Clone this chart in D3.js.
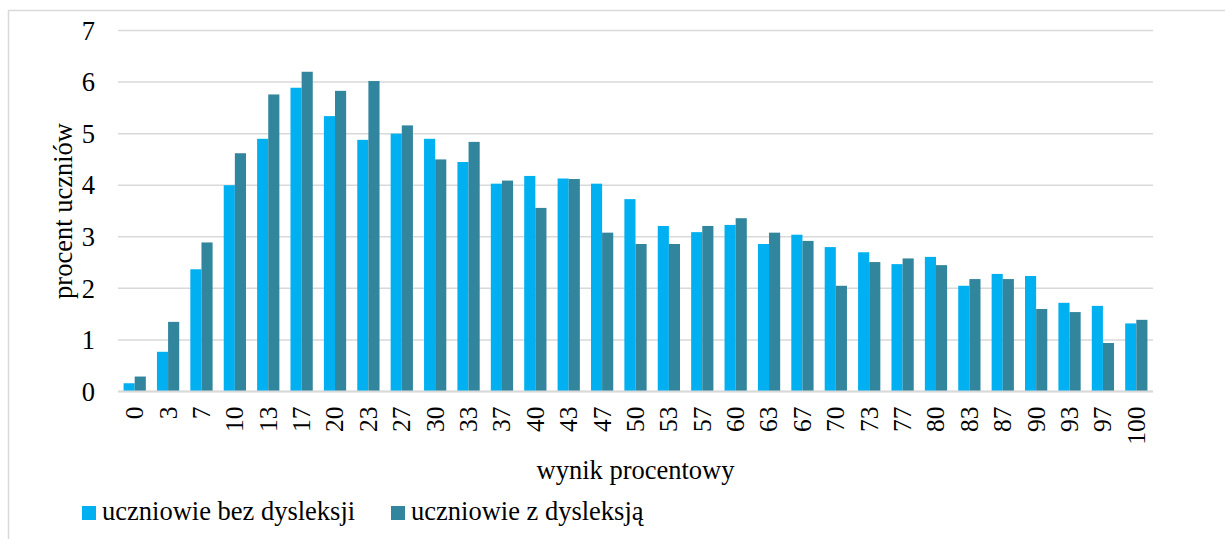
<!DOCTYPE html>
<html>
<head>
<meta charset="utf-8">
<script src="https://cdn.jsdelivr.net/npm/d3@7"></script>
<style>
  body { margin: 0; background: #fff; }
</style>
</head>
<body>
<div id="chart"></div>
<script>
const width = 1225, height = 539;
const serif = "'Liberation Serif', 'Times New Roman', serif";

// data
const scores = ["0", "3", "7", "10", "13", "17", "20", "23", "27", "30", "33", "37", "40", "43", "47", "50",
    "53", "57", "60", "63", "67", "70", "73", "77", "80", "83", "87", "90", "93", "97", "100"];
const withoutDyslexia = [0.16, 0.77, 2.37, 4.00, 4.90, 5.89, 5.34, 4.88, 5.00, 4.90, 4.45, 4.03, 4.18, 4.13, 4.03, 3.73,
    3.21, 3.09, 3.23, 2.86, 3.04, 2.80, 2.70, 2.47, 2.61, 2.05, 2.28, 2.24, 1.72, 1.66, 1.32];
const withDyslexia = [0.29, 1.35, 2.89, 4.62, 5.76, 6.20, 5.83, 6.02, 5.16, 4.50, 4.84, 4.09, 3.56, 4.12, 3.08, 2.86,
    2.86, 3.21, 3.36, 3.08, 2.92, 2.05, 2.51, 2.58, 2.45, 2.18, 2.18, 1.60, 1.54, 0.94, 1.39];
const seriesNames = ["uczniowie bez dysleksji", "uczniowie z dysleksją"];
const yTicks = [0, 1, 2, 3, 4, 5, 6, 7];

const colors = ["#00b0f0", "#31859c"];
const margin = { top: 30.5, right: 72, bottom: 147.5, left: 118 };

const svg = d3.select("#chart").append("svg").attr("width", width).attr("height", height)
    .style("font-family", serif);

// outer frame (only left and top edges visible in the crop)
svg.append("rect")
    .attr("x", 8.5).attr("y", 10.5)
    .attr("width", width + 20).attr("height", height + 20)
    .attr("fill", "none").attr("stroke", "#d9d9d9").attr("stroke-width", 1.5);

const x0 = d3.scaleBand().domain(scores)
    .range([margin.left, width - margin.right])
    .paddingInner(1 / 3).paddingOuter(1 / 6);
const x1 = d3.scaleBand().domain([0, 1]).range([0, x0.bandwidth()]);
const y = d3.scaleLinear().domain([0, 7]).range([height - margin.bottom, margin.top]);

// gridlines
svg.append("g").selectAll("line")
    .data(yTicks)
    .enter().append("line")
    .attr("x1", margin.left).attr("x2", width - margin.right)
    .attr("y1", d => y(d)).attr("y2", d => y(d))
    .attr("stroke", "#d9d9d9").attr("stroke-width", 1.5);

// bars
const groups = svg.append("g").selectAll("g")
    .data(scores.map((s, i) => ({ score: s, values: [withoutDyslexia[i], withDyslexia[i]] })))
    .enter().append("g")
    .attr("transform", d => `translate(${x0(d.score)},0)`);

groups.selectAll("rect")
    .data(d => d.values)
    .enter().append("rect")
    .attr("x", (d, i) => x1(i))
    .attr("width", x1.bandwidth())
    .attr("y", d => y(d))
    .attr("height", d => y(0) - y(d))
    .attr("fill", (d, i) => colors[i]);

// y axis labels
const yAxis = svg.append("g")
    .attr("transform", `translate(${margin.left - 23},0)`)
    .call(d3.axisLeft(y).tickValues(yTicks).tickFormat(d3.format("d")).tickSize(0).tickPadding(0));
yAxis.select(".domain").remove();
yAxis.selectAll("text")
    .style("font-family", serif)
    .style("font-size", "26.5px")
    .attr("fill", "#000")
    .attr("dy", "0.33em");

// x baseline
svg.append("line")
    .attr("x1", margin.left).attr("x2", width - margin.right)
    .attr("y1", y(0)).attr("y2", y(0))
    .attr("stroke", "#d9d9d9").attr("stroke-width", 2);

// x axis labels (rotated)
const xAxis = svg.append("g")
    .attr("transform", `translate(0,${y(0)})`)
    .call(d3.axisBottom(x0).tickSize(0).tickPadding(0));
xAxis.select(".domain").remove();
xAxis.selectAll("text")
    .style("font-family", serif)
    .style("font-size", "25.5px")
    .attr("fill", "#000")
    .attr("text-anchor", "end")
    .attr("transform", "rotate(-90)")
    .attr("x", -15)
    .attr("y", 0)
    .attr("dy", "0.33em");

// axis titles
svg.append("text")
    .attr("transform", `translate(72,${(y(0) + y(7)) / 2}) rotate(-90)`)
    .attr("text-anchor", "middle")
    .style("font-family", serif)
    .style("font-size", "26.5px")
    .text("procent uczniów");

svg.append("text")
    .attr("x", (margin.left + width - margin.right) / 2)
    .attr("y", 479)
    .attr("text-anchor", "middle")
    .style("font-family", serif)
    .style("font-size", "26.5px")
    .text("wynik procentowy");

// legend
const legendX = [82, 391];
const legend = svg.append("g").selectAll("g")
    .data(seriesNames)
    .enter().append("g")
    .attr("transform", (d, i) => `translate(${legendX[i]},506)`);

legend.append("rect")
    .attr("width", 14).attr("height", 14)
    .attr("fill", (d, i) => colors[i]);

legend.append("text")
    .attr("x", 20).attr("y", 14)
    .style("font-family", serif)
    .style("font-size", "26.5px")
    .text(d => d);
</script>
</body>
</html>
